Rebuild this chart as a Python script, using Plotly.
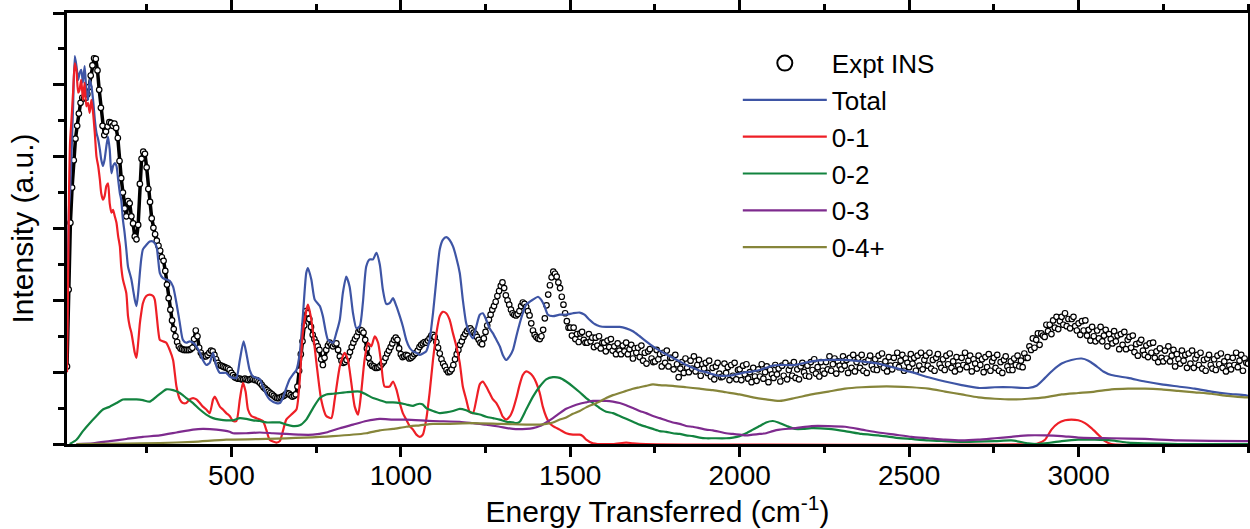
import plotly.graph_objects as go

# ---------------- data ----------------
# Experimental INS spectrum, regularly sampled stretches (start cm-1, step cm-1, intensities)
EXPT_A_START, EXPT_A_STEP = 15, 5
EXPT_A_Y = [1.08, 2.15, 3.08, 3.57, 3.95, 4.25, 4.43, 4.60, 4.75, 4.82, 4.81, 4.82, 4.87, 4.97, 5.13, 5.27,
            5.37, 5.36, 5.20, 4.93, 4.68, 4.43, 4.30, 4.35, 4.42, 4.48, 4.47, 4.43, 4.46, 4.40, 4.26, 3.94,
            3.70, 3.50, 3.28, 3.17, 3.38, 3.35, 3.17, 3.07, 2.89, 2.85, 3.05, 3.62, 3.97, 4.07, 4.04, 3.85,
            3.55, 3.37, 3.14, 3.01, 2.92, 2.83, 2.76, 2.69, 2.60, 2.55, 2.41, 2.22, 2.03, 1.87, 1.72, 1.60,
            1.50, 1.42, 1.36, 1.33, 1.32, 1.31, 1.31, 1.31, 1.31, 1.32, 1.34, 1.46, 1.58, 1.50, 1.34, 1.27,
            1.23, 1.22, 1.22, 1.24, 1.27, 1.30, 1.29, 1.24, 1.18, 1.13, 1.10, 1.09, 1.08, 1.07, 1.06,
            1.05, 1.03, 0.99, 0.96, 0.93, 0.92, 0.91, 0.91, 0.90, 0.90, 0.91, 0.90, 0.89, 0.90, 0.91, 0.90,
            0.89, 0.89, 0.87, 0.85, 0.82, 0.79, 0.77, 0.75, 0.73, 0.71, 0.69, 0.67, 0.65, 0.64, 0.64, 0.65,
            0.66, 0.67, 0.69, 0.71, 0.70, 0.68, 0.66, 0.67, 0.69, 0.80, 1.02, 1.25, 1.43, 1.65, 1.85, 1.82,
            1.74, 1.63, 1.52, 1.46, 1.41, 1.36, 1.31, 1.18, 1.10, 1.20, 1.31, 1.37, 1.41, 1.38, 1.36, 1.39,
            1.40, 1.31, 1.22, 1.16, 1.13, 1.14, 1.17, 1.22, 1.28, 1.35, 1.41, 1.46, 1.50, 1.56, 1.59, 1.58,
            1.55, 1.45, 1.33, 1.20, 1.12, 1.09, 1.08, 1.06, 1.06, 1.07, 1.09, 1.12, 1.15, 1.20, 1.26, 1.30,
            1.35, 1.40, 1.45, 1.48, 1.45, 1.33]
EXPT_B_START, EXPT_B_STEP = 1000, 5
EXPT_B_Y = [1.25, 1.21, 1.22, 1.24, 1.23, 1.19, 1.20, 1.22, 1.25, 1.27, 1.30, 1.35, 1.38, 1.40, 1.42, 1.41,
            1.44, 1.47, 1.51, 1.52, 1.49, 1.42, 1.34, 1.26, 1.18, 1.12, 1.08, 1.03, 1.00, 1.01, 1.04, 1.10,
            1.18, 1.25, 1.31, 1.38, 1.43, 1.49, 1.53, 1.57, 1.60, 1.61, 1.58, 1.55, 1.53, 1.49, 1.45, 1.41,
            1.39, 1.47, 1.56, 1.65, 1.73, 1.80, 1.87, 1.92, 1.98, 2.06, 2.13, 2.20, 2.25, 2.17, 2.07, 2.00,
            1.94, 1.87, 1.82, 1.80, 1.79, 1.81, 1.85, 1.92, 1.97, 1.95, 1.91, 1.85, 1.79, 1.68, 1.58, 1.52,
            1.49, 1.47, 1.46, 1.50, 1.59, 1.75, 1.93, 2.08, 2.21, 2.32, 2.40, 2.37, 2.33, 2.25, 2.17, 2.05,
            1.94, 1.82, 1.71, 1.62,
            1.62, 1.51, 1.62, 1.46, 1.53, 1.42, 1.54, 1.56, 1.45, 1.41,
            1.41, 1.53, 1.43, 1.48, 1.35, 1.48, 1.37, 1.50, 1.33, 1.41,
            1.41, 1.29, 1.44, 1.35, 1.46, 1.30, 1.36, 1.25, 1.40, 1.30,
            1.25, 1.37, 1.29, 1.41, 1.25, 1.32, 1.38, 1.19, 1.33, 1.27,
            1.34, 1.21, 1.37, 1.16, 1.27, 1.12, 1.29, 1.32, 1.19, 1.14,
            1.15, 1.31, 1.18, 1.25, 1.08, 1.27, 1.13, 1.30, 1.08, 1.20,
            1.20, 1.04, 1.24, 1.11, 0.93, 1.05, 1.14, 0.99, 1.19, 1.06,
            1.00, 1.16, 1.05, 1.22, 1.01, 1.10, 1.17, 0.95, 1.11, 1.05,
            1.13, 0.99, 1.16, 0.94, 1.06, 0.90, 1.08, 1.13, 0.98, 0.93,
            0.94, 1.12, 0.99, 1.07, 0.89, 1.10, 0.95, 1.13, 0.90, 1.03,
            1.04, 0.89, 1.09, 0.97, 1.11, 0.91, 1.00, 0.86, 1.06, 0.94,
            0.88, 1.04, 0.94, 1.11, 0.91, 1.00, 1.08, 0.86, 1.03, 0.97,
            0.92, 1.10, 0.97, 1.05, 0.87, 1.09, 0.95, 1.13, 0.90, 1.03,
            1.09, 0.95, 1.14, 0.92, 1.04, 0.90, 1.08, 1.13, 1.00, 0.95,
            1.09, 0.94, 1.14, 1.03, 1.18, 0.98, 1.07, 0.94, 1.14, 1.02,
            0.98, 1.14, 1.04, 1.22, 1.02, 1.11, 1.19, 0.98, 1.15, 1.09,
            1.04, 1.22, 1.09, 1.17, 0.99, 1.20, 1.06, 1.24, 1.01, 1.14,
            1.20, 1.06, 1.24, 1.02, 1.14, 0.99, 1.17, 1.23, 1.09, 1.04,
            1.18, 1.03, 1.23, 1.11, 1.26, 1.06, 1.15, 1.01, 1.21, 1.09,
            1.04, 1.20, 1.10, 1.27, 1.07, 1.16, 1.24, 1.02, 1.19, 1.13,
            1.07, 1.25, 1.12, 1.20, 1.02, 1.23, 1.09, 1.27, 1.04, 1.17,
            1.23, 1.09, 1.27, 1.05, 1.17, 1.02, 1.20, 1.25, 1.11, 1.06,
            1.18, 1.03, 1.23, 1.11, 1.26, 1.06, 1.15, 1.01, 1.21, 1.09,
            1.04, 1.20, 1.10, 1.27, 1.07, 1.16, 1.23, 1.01, 1.18, 1.12,
            1.05, 1.23, 1.10, 1.18, 1.00, 1.21, 1.07, 1.25, 1.02, 1.15,
            1.20, 1.06, 1.24, 1.02, 1.14, 0.99, 1.17, 1.22, 1.08, 1.03,
            1.15, 1.03, 1.19, 1.10, 1.23, 1.08, 1.16, 1.07, 1.26, 1.20,
            1.20, 1.36, 1.31, 1.47, 1.34, 1.45, 1.54, 1.38, 1.54, 1.51,
            1.49, 1.66, 1.57, 1.66, 1.53, 1.72, 1.62, 1.77, 1.60, 1.71,
            1.77, 1.66, 1.82, 1.64, 1.74, 1.61, 1.74, 1.77, 1.64, 1.58,
            1.68, 1.52, 1.71, 1.58, 1.72, 1.51, 1.59, 1.44, 1.63, 1.50,
            1.43, 1.58, 1.47, 1.63, 1.43, 1.51, 1.59, 1.36, 1.53, 1.46,
            1.40, 1.57, 1.43, 1.51, 1.32, 1.53, 1.38, 1.56, 1.32, 1.45,
            1.49, 1.34, 1.51, 1.28, 1.39, 1.23, 1.41, 1.45, 1.30, 1.24,
            1.37, 1.21, 1.40, 1.27, 1.41, 1.20, 1.29, 1.14, 1.33, 1.20,
            1.15, 1.30, 1.19, 1.36, 1.15, 1.23, 1.31, 1.08, 1.25, 1.18,
            1.12, 1.30, 1.16, 1.24, 1.06, 1.26, 1.12, 1.30, 1.06, 1.19,
            1.24, 1.10, 1.27, 1.05, 1.17, 1.02, 1.19, 1.24, 1.10, 1.05,
            1.18, 1.03, 1.23, 1.11, 1.26, 1.06, 1.15, 1.01, 1.21, 1.09,
            1.04, 1.20, 1.10, 1.27, 1.07, 1.16, 1.24, 1.02, 1.19, 1.13,
            1.12]

# Calculated spectra: (energy cm-1, intensity)
TOTAL_X = [15, 18, 21, 24, 28, 33, 38, 43, 48, 52, 57, 62, 67, 72, 77, 82, 87, 92, 97, 102, 107, 112, 116, 121,
           126, 131, 136, 141, 146, 151, 156, 161, 166, 171, 175, 180, 185, 190, 195, 200, 205, 210, 215, 220,
           225, 230, 234, 239, 249, 259, 269, 279, 284, 289, 298, 308, 318, 328, 338, 348, 357, 367, 377, 387,
           397, 407, 416, 426, 436, 446, 456, 466, 475, 485, 495, 505, 515, 525, 536, 544, 554, 564, 584, 593,
           603, 613, 633, 643, 652, 662, 672, 682, 692, 702, 711, 721, 726, 736, 746, 761, 770, 785, 800, 810,
           820, 829, 839, 849, 859, 869, 879, 888, 898, 908, 918, 928, 938, 947, 957, 967, 977, 987, 997, 1006,
           1016, 1026, 1036, 1046, 1056, 1065, 1075, 1085, 1095, 1105, 1115, 1124, 1134, 1144, 1154, 1164, 1174,
           1183, 1193, 1203, 1213, 1223, 1233, 1242, 1252, 1262, 1272, 1282, 1292, 1301, 1311, 1321, 1331, 1341,
           1351, 1360, 1370, 1390, 1405, 1414, 1424, 1434, 1449, 1469, 1488, 1508, 1528, 1542, 1557, 1572, 1587,
           1606, 1626, 1646, 1665, 1685, 1705, 1724, 1744, 1764, 1783, 1803, 1823, 1842, 1862, 1882, 1901, 1921,
           1941, 1960, 1980, 2000, 2019, 2039, 2059, 2078, 2098, 2118, 2163, 2212, 2262, 2311, 2360, 2409, 2458,
           2507, 2557, 2606, 2655, 2704, 2753, 2802, 2851, 2876, 2901, 2925, 2950, 2979, 3009, 3029, 3048, 3073,
           3097, 3146, 3196, 3245, 3294, 3343, 3392, 3441, 3491, 3500]
TOTAL_Y = [1.5, 2.6, 3.3, 3.5, 4.0, 4.7, 5.40, 5.26, 5.07, 5.16, 5.21, 5.03, 5.26, 4.93, 4.79, 5.07, 4.98, 4.79,
           4.52, 4.33, 4.24, 4.10, 3.96, 3.87, 3.96, 4.14, 4.28, 4.10, 3.77, 3.87, 3.91, 3.87, 3.68, 3.49, 3.40,
           3.12, 2.94, 2.71, 2.47, 2.38, 2.29, 2.15, 2.01, 1.92, 2.10, 2.38, 2.57, 2.71, 2.77, 2.82, 2.82, 2.75,
           2.57, 2.38, 2.31, 2.29, 2.27, 2.19, 1.96, 1.68, 1.45, 1.41, 1.43, 1.41, 1.36, 1.27, 1.17, 1.10, 1.13,
           1.27, 1.08, 0.99, 0.99, 0.99, 0.94, 0.92, 0.92, 1.17, 1.43, 1.27, 1.03, 0.94, 0.90, 0.80, 0.69, 0.62,
           0.57, 0.57, 0.64, 0.78, 0.90, 0.97, 1.03, 1.27, 1.78, 2.38, 2.45, 2.29, 2.01, 1.92, 1.78, 1.45, 1.41,
           1.55, 1.73, 2.10, 2.33, 2.19, 1.82, 1.61, 1.64, 1.96, 2.47, 2.57, 2.57, 2.66, 2.50, 2.15, 1.95, 1.96,
           2.03, 1.92, 1.78, 1.64, 1.45, 1.34, 1.29, 1.27, 1.24, 1.26, 1.29, 1.45, 1.82, 2.29, 2.71, 2.84, 2.88,
           2.84, 2.75, 2.59, 2.38, 2.01, 1.68, 1.54, 1.47, 1.64, 1.80, 1.82, 1.73, 1.61, 1.54, 1.45, 1.36, 1.24,
           1.17, 1.22, 1.31, 1.50, 1.68, 1.82, 1.94, 2.01, 2.05, 2.01, 1.92, 1.80, 1.78, 1.80, 1.80, 1.82, 1.83,
           1.80, 1.73, 1.67, 1.64, 1.63, 1.63, 1.63, 1.61, 1.57, 1.50, 1.43, 1.36, 1.30, 1.25, 1.20, 1.15, 1.10,
           1.06, 1.02, 1.00, 0.97, 0.95, 0.95, 0.96, 0.98, 1.00, 1.01, 1.03, 1.06, 1.09, 1.10, 1.10, 1.15, 1.17,
           1.17, 1.15, 1.12, 1.06, 1.00, 0.93, 0.87, 0.82, 0.78, 0.79, 0.79, 0.78, 0.81, 0.92, 1.03, 1.12, 1.17,
           1.19, 1.16, 1.10, 1.01, 0.96, 0.92, 0.87, 0.83, 0.80, 0.77, 0.73, 0.70, 0.68, 0.67]

B01_X = [15, 18, 21, 24, 28, 33, 38, 43, 48, 52, 57, 62, 67, 72, 77, 82, 87, 92, 97, 102, 107, 112, 116, 121,
         126, 131, 136, 141, 146, 151, 156, 161, 166, 171, 175, 180, 190, 195, 200, 205, 210, 215, 220, 225,
         230, 234, 239, 249, 259, 269, 274, 279, 284, 289, 298, 308, 318, 328, 333, 338, 348, 357, 367, 377,
         387, 397, 407, 416, 426, 436, 446, 451, 456, 466, 475, 485, 495, 505, 515, 525, 534, 542, 549, 559,
         574, 593, 603, 613, 633, 643, 652, 662, 677, 692, 702, 711, 726, 736, 751, 765, 780, 795, 805, 820,
         834, 844, 854, 864, 874, 883, 893, 903, 913, 923, 933, 942, 952, 967, 977, 987, 997, 1006, 1016, 1026,
         1036, 1046, 1056, 1065, 1075, 1085, 1095, 1105, 1115, 1124, 1134, 1144, 1154, 1164, 1174, 1183, 1193,
         1203, 1213, 1223, 1233, 1242, 1252, 1262, 1272, 1282, 1292, 1301, 1311, 1321, 1331, 1341, 1351, 1360,
         1370, 1380, 1390, 1400, 1410, 1419, 1429, 1439, 1449, 1469, 1488, 1508, 1528, 1537, 1547, 1567, 1626,
         1665, 1685, 1724, 2871, 2881, 2901, 2920, 2940, 2960, 2979, 2999, 3019, 3038, 3058, 3078, 3097, 3500]
B01_Y = [1.0, 2.2, 3.5, 4.2, 4.5, 4.9, 5.30, 5.19, 4.89, 4.93, 5.07, 4.79, 5.03, 4.70, 4.75, 4.61, 4.79, 4.61,
         4.33, 4.00, 3.87, 3.68, 3.49, 3.40, 3.45, 3.59, 3.63, 3.35, 3.22, 3.26, 3.17, 3.08, 2.89, 2.75, 2.47,
         2.29, 2.10, 1.78, 1.64, 1.55, 1.41, 1.27, 1.20, 1.41, 1.68, 1.82, 1.96, 2.06, 2.08, 2.06, 2.01, 1.82,
         1.59, 1.45, 1.43, 1.41, 1.31, 1.17, 0.99, 0.80, 0.62, 0.57, 0.57, 0.62, 0.64, 0.62, 0.57, 0.52, 0.48,
         0.43, 0.62, 0.66, 0.62, 0.52, 0.48, 0.43, 0.39, 0.32, 0.32, 0.62, 0.85, 0.73, 0.48, 0.39, 0.36, 0.32,
         0.20, 0.06, 0.02, 0.04, 0.18, 0.34, 0.41, 0.48, 0.90, 1.55, 1.94, 1.73, 1.13, 0.62, 0.39, 0.36, 0.62,
         1.08, 1.27, 1.17, 0.85, 0.52, 0.41, 0.71, 1.17, 1.41, 1.36, 1.50, 1.41, 1.13, 0.80, 0.80, 0.87, 0.76,
         0.57, 0.43, 0.34, 0.25, 0.20, 0.13, 0.10, 0.13, 0.34, 0.71, 1.17, 1.54, 1.78, 1.84, 1.82, 1.73, 1.54,
         1.36, 1.13, 0.80, 0.62, 0.45, 0.43, 0.62, 0.83, 0.87, 0.80, 0.71, 0.62, 0.57, 0.48, 0.38, 0.34, 0.38,
         0.48, 0.64, 0.83, 0.96, 1.01, 0.99, 0.94, 0.85, 0.71, 0.52, 0.38, 0.29, 0.25, 0.20, 0.15, 0.13, 0.13,
         0.11, 0.06, 0.01, 0.0, 0.02, 0.01, 0.0, 0.0, 0.01, 0.06, 0.20, 0.29, 0.33, 0.34, 0.33, 0.29, 0.22, 0.13,
         0.04, 0.0, 0.0]

B02_X = [23, 43, 62, 82, 102, 121, 141, 161, 180, 200, 220, 239, 259, 279, 298, 308, 328, 348, 367, 387, 407,
         426, 446, 466, 485, 505, 525, 544, 564, 584, 603, 643, 662, 682, 702, 721, 741, 761, 780, 800, 820, 839,
         859, 879, 898, 918, 938, 957, 977, 997, 1016, 1036, 1046, 1056, 1065, 1075, 1095, 1115, 1134, 1154, 1174,
         1193, 1213, 1233, 1252, 1272, 1292, 1311, 1331, 1341, 1351, 1370, 1390, 1410, 1429, 1449, 1469, 1488,
         1508, 1528, 1547, 1567, 1587, 1606, 1626, 1646, 1665, 1685, 1705, 1724, 1744, 1764, 1783, 1803, 1823,
         1842, 1862, 1882, 1901, 1921, 1960, 1980, 2000, 2019, 2039, 2059, 2078, 2098, 2114, 2139, 2163, 2188,
         2212, 2262, 2311, 2360, 2409, 2458, 2507, 2557, 2606, 2655, 2753, 2802, 2851, 2876, 2901, 2950, 2999,
         3048, 3097, 3146, 3196, 3294, 3500]
B02_Y = [0.0, 0.06, 0.18, 0.29, 0.39, 0.48, 0.52, 0.57, 0.62, 0.62, 0.62, 0.61, 0.59, 0.66, 0.73, 0.76, 0.75,
         0.71, 0.64, 0.57, 0.48, 0.41, 0.36, 0.34, 0.33, 0.33, 0.36, 0.35, 0.33, 0.32, 0.30, 0.30, 0.27, 0.25,
         0.26, 0.34, 0.50, 0.64, 0.69, 0.70, 0.71, 0.72, 0.73, 0.73, 0.69, 0.64, 0.61, 0.58, 0.58, 0.57, 0.55,
         0.53, 0.55, 0.56, 0.55, 0.50, 0.46, 0.43, 0.44, 0.46, 0.49, 0.47, 0.43, 0.41, 0.38, 0.36, 0.34, 0.31,
         0.30, 0.29, 0.31, 0.48, 0.66, 0.80, 0.90, 0.93, 0.92, 0.87, 0.80, 0.72, 0.64, 0.57, 0.50, 0.45, 0.43,
         0.39, 0.35, 0.31, 0.27, 0.24, 0.21, 0.18, 0.17, 0.15, 0.14, 0.12, 0.11, 0.09, 0.08, 0.08, 0.08, 0.09,
         0.11, 0.15, 0.20, 0.25, 0.30, 0.32, 0.30, 0.25, 0.21, 0.21, 0.22, 0.21, 0.18, 0.14, 0.12, 0.09, 0.07,
         0.05, 0.04, 0.03, 0.04, 0.05, 0.01, 0.0, 0.01, 0.04, 0.06, 0.06, 0.05, 0.02, 0.01, 0.0, 0.0]

B03_X = [43, 92, 141, 190, 239, 289, 338, 387, 416, 456, 495, 505, 544, 584, 623, 662, 702, 741, 780, 820, 859,
         898, 938, 977, 1016, 1095, 1174, 1213, 1252, 1292, 1331, 1370, 1390, 1410, 1429, 1449, 1469, 1488, 1508,
         1528, 1547, 1567, 1587, 1606, 1626, 1646, 1665, 1685, 1705, 1724, 1744, 1764, 1783, 1803, 1823, 1842,
         1862, 1882, 1901, 1921, 1941, 1960, 1980, 2000, 2019, 2039, 2059, 2078, 2098, 2118, 2163, 2212, 2262,
         2311, 2360, 2409, 2458, 2507, 2557, 2606, 2655, 2704, 2753, 2802, 2851, 2901, 2950, 2999, 3097, 3196,
         3294, 3491, 3500]
B03_Y = [0.0, 0.01, 0.04, 0.07, 0.10, 0.12, 0.16, 0.20, 0.21, 0.20, 0.17, 0.15, 0.15, 0.16, 0.15, 0.14, 0.13,
         0.13, 0.16, 0.22, 0.27, 0.32, 0.35, 0.34, 0.34, 0.32, 0.31, 0.29, 0.27, 0.24, 0.21, 0.21, 0.22, 0.25,
         0.30, 0.36, 0.43, 0.49, 0.53, 0.56, 0.58, 0.60, 0.60, 0.60, 0.59, 0.57, 0.54, 0.50, 0.46, 0.43, 0.39,
         0.36, 0.33, 0.30, 0.28, 0.25, 0.24, 0.22, 0.20, 0.19, 0.17, 0.15, 0.14, 0.13, 0.12, 0.13, 0.14, 0.15,
         0.18, 0.20, 0.22, 0.25, 0.25, 0.24, 0.20, 0.16, 0.13, 0.10, 0.08, 0.06, 0.05, 0.06, 0.08, 0.10, 0.12,
         0.12, 0.11, 0.09, 0.08, 0.07, 0.05, 0.04, 0.04]

B04_X = [43, 190, 289, 387, 485, 603, 800, 898, 938, 977, 1016, 1056, 1095, 1134, 1213, 1292, 1370, 1410, 1429,
         1449, 1469, 1488, 1508, 1528, 1547, 1567, 1587, 1606, 1626, 1646, 1665, 1685, 1705, 1724, 1744, 1764,
         1803, 1842, 1882, 1921, 1960, 2000, 2039, 2078, 2118, 2163, 2212, 2262, 2311, 2360, 2409, 2458, 2507,
         2557, 2606, 2655, 2704, 2753, 2802, 2851, 2901, 2950, 2999, 3048, 3097, 3146, 3196, 3245, 3294, 3343,
         3392, 3441, 3491, 3500]
B04_Y = [0.0, 0.005, 0.014, 0.03, 0.06, 0.07, 0.11, 0.15, 0.19, 0.21, 0.24, 0.26, 0.28, 0.28, 0.29, 0.28, 0.27,
         0.27, 0.28, 0.30, 0.34, 0.37, 0.42, 0.46, 0.51, 0.55, 0.59, 0.64, 0.68, 0.71, 0.74, 0.77, 0.79, 0.81,
         0.83, 0.82, 0.81, 0.79, 0.77, 0.75, 0.72, 0.69, 0.65, 0.62, 0.60, 0.64, 0.69, 0.73, 0.77, 0.79, 0.80,
         0.80, 0.79, 0.77, 0.73, 0.69, 0.65, 0.63, 0.62, 0.63, 0.65, 0.69, 0.71, 0.73, 0.76, 0.77, 0.77, 0.76,
         0.74, 0.72, 0.70, 0.67, 0.65, 0.65]

X_TICKS = [500, 1000, 1500, 2000, 2500, 3000]
Y_TICKS = [0, 1, 2, 3, 4, 5, 6]


# ---------------- figure ----------------
def grid(start, step, vals):
    return [start + step * i for i in range(len(vals))]


FONT = "Liberation Sans, Arial, Helvetica, sans-serif"
MARKER = dict(symbol="circle", size=5.5, color="white", line=dict(color="black", width=1.2))
fig = go.Figure()

# dense low-energy part of the measurement: points so close they merge into a band
fig.add_trace(go.Scatter(
    x=grid(EXPT_A_START, EXPT_A_STEP, EXPT_A_Y), y=EXPT_A_Y, mode="lines+markers", name="Expt INS",
    legendgroup="expt", showlegend=False, line=dict(color="black", width=3.5), marker=MARKER))
fig.add_trace(go.Scatter(
    x=grid(EXPT_B_START, EXPT_B_STEP, EXPT_B_Y), y=EXPT_B_Y, mode="markers", name="Expt INS",
    legendgroup="expt", showlegend=False, marker=MARKER))
# legend entry for the experimental data (larger symbol, as in the reference legend)
fig.add_trace(go.Scatter(
    x=[None], y=[None], mode="markers", name="Expt INS", legendgroup="expt", showlegend=True,
    marker=dict(symbol="circle", size=15, color="white", line=dict(color="black", width=2))))

curves = [("Total", TOTAL_X, TOTAL_Y, "#3E55A5"),
          ("0-1", B01_X, B01_Y, "#EE1F26"),
          ("0-2", B02_X, B02_Y, "#12833F"),
          ("0-3", B03_X, B03_Y, "#7E2B8E"),
          ("0-4+", B04_X, B04_Y, "#86853A")]
for name, xs, ys, col in curves:
    fig.add_trace(go.Scatter(x=xs, y=ys, mode="lines", name=name,
                             line=dict(color=col, width=2.2, shape="spline", smoothing=0.6)))

fig.update_layout(
    width=1250, height=529,
    margin=dict(l=67, r=2, t=13, b=85, autoexpand=False),
    plot_bgcolor="white", paper_bgcolor="white",
    font=dict(family=FONT, size=28, color="black"),
    legend=dict(x=0.568, y=0.938, xanchor="left", yanchor="top", bgcolor="rgba(0,0,0,0)",
                font=dict(family=FONT, size=26, color="black"), itemwidth=84, tracegroupgap=0),
)
fig.update_xaxes(
    range=[15, 3500], tickmode="array", tickvals=X_TICKS, ticktext=[str(v) for v in X_TICKS],
    ticks="outside", ticklen=10, tickwidth=2.5, tickcolor="black", ticklabelstandoff=-6,
    minor=dict(dtick=250, tick0=0, ticks="outside", ticklen=6, tickwidth=2.5, tickcolor="black"),
    showline=True, linewidth=3, linecolor="black", mirror="ticks",
    showgrid=False, zeroline=False, tickfont=dict(size=28),
    title=dict(text="Energy Transferred (cm<sup>-1</sup>)", font=dict(size=30), standoff=11))
fig.update_yaxes(
    range=[0, 6], tickmode="array", tickvals=Y_TICKS, showticklabels=False,
    ticks="outside", ticklen=11, tickwidth=2.5, tickcolor="black",
    minor=dict(dtick=0.5, tick0=0, ticks="outside", ticklen=6, tickwidth=2.5, tickcolor="black"),
    showline=True, linewidth=3, linecolor="black", mirror=True,
    showgrid=False, zeroline=False,
    title=dict(text="Intensity (a.u.)", font=dict(size=30), standoff=11))

fig.write_html("out.html", config={"displayModeBar": False},
               post_script="document.body.style.margin='0';document.body.style.padding='0';"
                           "document.body.style.overflow='hidden';")
